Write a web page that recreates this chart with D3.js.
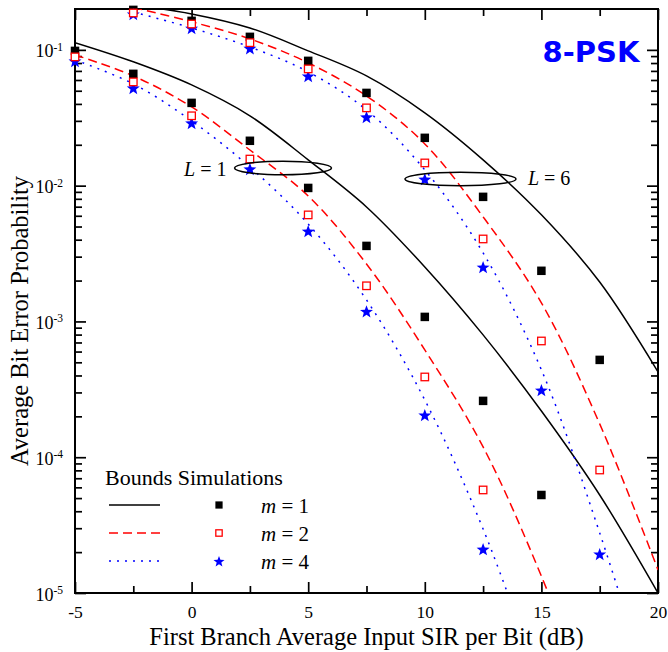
<!DOCTYPE html>
<html><head><meta charset="utf-8">
<script src="https://cdn.jsdelivr.net/npm/d3@7"></script>
<style>body{margin:0;background:#fff}</style>
</head><body><svg id="c" width="668" height="652"></svg>
<script>
// ---------- data ----------
const sirDb = [-5, -2.5, 0, 2.5, 5, 7.5, 10, 12.5, 15, 17.5];
const simL1m1 = [0.0983, 0.0666, 0.0407, 0.0214, 0.00962, 0.00360, 0.00108, 2.60e-4, 5.27e-5, null];
const simL1m2 = [0.0888, 0.0581, 0.0327, 0.0157, 0.00609, 0.00183, 3.90e-4, 5.74e-5, null, null];
const simL1m4 = [0.0830, 0.0525, 0.0290, 0.0133, 0.00464, 0.00119, 2.05e-4, 2.11e-5, null, null];
const simL6m1 = [null, 0.197, 0.1636, 0.1247, 0.0830, 0.0482, 0.0225, 0.00827, 0.00236, 5.21e-4];
const simL6m2 = [null, 0.187, 0.155, 0.113, 0.0724, 0.0374, 0.0147, 0.00405, 7.18e-4, 8.05e-5];
const simL6m4 = [null, 0.184, 0.145, 0.103, 0.0643, 0.0321, 0.0112, 0.00252, 3.13e-4, 1.94e-5];

const boundDb = [-5, -2.5, 0, 2.5, 5, 7.5, 10, 12.5, 15, 17.5, 20];
const boundL1m1 = [0.113, 0.0817, 0.0552, 0.0327, 0.0155, 0.00697, 0.00252, 7.96e-4, 2.19e-4, 5.27e-5, 1.0e-5];
const boundL1m2 = [0.0918, 0.0643, 0.0380, 0.0183, 0.00839, 0.00265, 6.17e-4, 1.19e-4, 1.33e-5, 1.0e-6, null];
const boundL1m4 = [0.0843, 0.0562, 0.0300, 0.0137, 0.00522, 0.00144, 2.64e-4, 2.96e-5, 2.0e-6, null, null];
const boundL6m1 = [null, 0.214, 0.184, 0.145, 0.0984, 0.0643, 0.0344, 0.0155, 0.00610, 0.00195, 4.25e-4];
const boundL6m2 = [null, 0.205, 0.161, 0.1205, 0.0802, 0.0458, 0.0203, 0.00589, 0.00137, 1.76e-4, 1.48e-5];
const boundL6m4 = [null, 0.19, 0.145, 0.105, 0.0689, 0.0361, 0.01306, 0.00320, 4.40e-4, 2.77e-5, 1.2e-6];

const xTicks = [-5, 0, 5, 10, 15, 20];
const xMinorTicks = [-2.5, 2.5, 7.5, 12.5, 17.5];
const yExponents = [-1, -2, -3, -4, -5];
const mValues = [1, 2, 4];
const groupLabels = ["1", "6"];
const ellipseCenterDb = [3.92, 11.53];
const ellipseCenterBer = [0.0135, 0.0112];
const ellipseHalfWidthDb = [2.08, 2.38];
const titleText = "8-PSK";
const xLabel = "First Branch Average Input SIR per Bit (dB)";
const yLabel = "Average Bit Error Probability";
const legendHeader = "Bounds Simulations";

// ---------- setup ----------
const svg = d3.select("#c");
svg.append("rect").attr("width", 668).attr("height", 652).attr("fill", "#fff");
const plotL = 75, plotR = 658, plotT = 9, plotB = 593;
const x = d3.scaleLinear().domain([-5, 20]).range([plotL, plotR]);
const y = d3.scaleLog().domain([1e-5, 0.2]).range([plotB, plotT]);
const RED = "#ff0000", BLUE = "#0000ff";
const SERIF = '"Liberation Serif"';
const serifText = (sel, size) => sel.style("font-family", SERIF).style("font-size", size + "px").attr("fill", "#000");

svg.append("defs").append("clipPath").attr("id", "clip")
  .append("rect").attr("x", plotL).attr("y", plotT).attr("width", plotR - plotL).attr("height", plotB - plotT);

// ---------- axes ----------
const minorY = [];
for (let e = -5; e <= -1; e++) for (let k = 2; k <= 9; k++) { const v = k * Math.pow(10, e); if (v < 0.2) minorY.push(v); }
const majorY = yExponents.map(e => Math.pow(10, e));

function styleAxis(g) {
  g.select(".domain").remove();
  g.selectAll("line").attr("stroke", "#000").attr("stroke-width", 1.7);
}
// bottom
svg.append("g").attr("transform", `translate(0,${plotB})`)
  .call(d3.axisBottom(x).tickValues(xTicks).tickSize(-11).tickFormat(d => String(d)))
  .call(styleAxis)
  .call(g => g.selectAll("text").attr("y", 25).attr("dy", null).call(serifText, 17.5));
svg.append("g").attr("transform", `translate(0,${plotB})`)
  .call(d3.axisBottom(x).tickValues(xMinorTicks).tickSize(-7).tickFormat(""))
  .call(styleAxis);
// top
svg.append("g").attr("transform", `translate(0,${plotT})`)
  .call(d3.axisTop(x).tickValues(xTicks).tickSize(-11).tickFormat("")).call(styleAxis);
svg.append("g").attr("transform", `translate(0,${plotT})`)
  .call(d3.axisTop(x).tickValues(xMinorTicks).tickSize(-7).tickFormat("")).call(styleAxis);
// left
svg.append("g").attr("transform", `translate(${plotL},0)`)
  .call(d3.axisLeft(y).tickValues(majorY).tickSize(-11).tickFormat("")).call(styleAxis);
svg.append("g").attr("transform", `translate(${plotL},0)`)
  .call(d3.axisLeft(y).tickValues(minorY).tickSize(-7).tickFormat("")).call(styleAxis);
// right
svg.append("g").attr("transform", `translate(${plotR},0)`)
  .call(d3.axisRight(y).tickValues(majorY).tickSize(-11).tickFormat("")).call(styleAxis);
svg.append("g").attr("transform", `translate(${plotR},0)`)
  .call(d3.axisRight(y).tickValues(minorY).tickSize(-7).tickFormat("")).call(styleAxis);

// y tick labels 10^n
yExponents.forEach(e => {
  const t = svg.append("text").attr("x", plotL - 12).attr("y", y(Math.pow(10, e)) + 7.5)
    .attr("text-anchor", "end").call(serifText, 18);
  t.append("tspan").text("10");
  t.append("tspan").style("font-size", "11.5px").attr("dy", -6.5).text(String(e));
});

// frame
svg.append("rect").attr("x", plotL).attr("y", plotT).attr("width", plotR - plotL).attr("height", plotB - plotT)
  .attr("fill", "none").attr("stroke", "#000").attr("stroke-width", 2);

// ---------- bounds ----------
const styles = [
  { color: "#000", dash: null },
  { color: RED, dash: "9,5" },
  { color: BLUE, dash: "2,6" }
];
const boundSets = [
  [boundL1m1, 0], [boundL1m2, 1], [boundL1m4, 2],
  [boundL6m1, 0], [boundL6m2, 1], [boundL6m4, 2]
];
const line = d3.line().x(d => x(d[0])).y(d => y(d[1])).curve(d3.curveCatmullRom.alpha(0.5));
const gCurves = svg.append("g").attr("clip-path", "url(#clip)");
boundSets.forEach(([vals, si]) => {
  const pts = boundDb.map((d, i) => [d, vals[i]]).filter(p => p[1] != null);
  gCurves.append("path").attr("d", line(pts)).attr("fill", "none")
    .attr("stroke", styles[si].color).attr("stroke-width", 1.5)
    .attr("stroke-dasharray", styles[si].dash);
});

// ---------- markers ----------
const starPath = (r) => {
  const pts = [];
  for (let i = 0; i < 10; i++) {
    const a = -Math.PI / 2 + i * Math.PI / 5;
    const rr = i % 2 === 0 ? r : r * 0.42;
    pts.push([rr * Math.cos(a), rr * Math.sin(a)]);
  }
  return "M" + pts.map(p => p[0].toFixed(2) + "," + p[1].toFixed(2)).join("L") + "Z";
};
function drawMarker(g, type, cx, cy, scale) {
  if (type === 0) {
    const s = 8.5 * scale;
    g.append("rect").attr("x", cx - s / 2).attr("y", cy - s / 2).attr("width", s).attr("height", s).attr("fill", "#000");
  } else if (type === 1) {
    const s = 7.5 * scale;
    g.append("rect").attr("x", cx - s / 2).attr("y", cy - s / 2).attr("width", s).attr("height", s)
      .attr("fill", "#fff").attr("stroke", RED).attr("stroke-width", 1.3);
  } else {
    g.append("path").attr("transform", `translate(${cx},${cy + 0.8})`).attr("d", starPath(6.8 * scale)).attr("fill", BLUE);
  }
}
const simSets = [[simL1m1, 0], [simL6m1, 0], [simL1m4, 2], [simL6m4, 2], [simL1m2, 1], [simL6m2, 1]];
const gMarks = svg.append("g");
simSets.forEach(([vals, type]) => {
  sirDb.forEach((d, i) => { if (vals[i] != null) drawMarker(gMarks, type, x(d), y(vals[i]), 1); });
});

// ---------- annotations ----------
groupLabels.forEach((lab, i) => {
  const cx = x(ellipseCenterDb[i]), cy = y(ellipseCenterBer[i]);
  const rx = x(ellipseCenterDb[i] + ellipseHalfWidthDb[i]) - cx;
  svg.append("ellipse").attr("cx", cx).attr("cy", cy).attr("rx", rx).attr("ry", 6.8)
    .attr("fill", "none").attr("stroke", "#000").attr("stroke-width", 1.5);
  const t = svg.append("text").call(serifText, 20);
  if (i === 0) t.attr("x", cx - rx - 8).attr("y", cy + 8).attr("text-anchor", "end");
  else t.attr("x", cx + rx + 12).attr("y", cy + 6).attr("text-anchor", "start");
  t.append("tspan").style("font-style", "italic").text("L");
  t.append("tspan").text(" = " + lab);
});

// title
svg.append("text").attr("x", 591).attr("y", 62).attr("text-anchor", "middle")
  .style("font-family", '"DejaVu Sans"').style("font-weight", "bold").style("font-size", "29px")
  .attr("fill", BLUE).text(titleText);

// ---------- legend ----------
svg.append("text").attr("x", 105).attr("y", 485).call(serifText, 22).text(legendHeader);
const rowY = [505, 533, 561];
mValues.forEach((m, i) => {
  svg.append("line").attr("x1", 109).attr("x2", 160).attr("y1", rowY[i]).attr("y2", rowY[i])
    .attr("stroke", styles[i].color).attr("stroke-width", 1.5).attr("stroke-dasharray", styles[i].dash);
  drawMarker(svg, i, 219, rowY[i], 0.85);
  const t = svg.append("text").attr("x", 261).attr("y", rowY[i] + 7.5).call(serifText, 21);
  t.append("tspan").style("font-style", "italic").text("m");
  t.append("tspan").text(" = " + m);
});

// axis titles
svg.append("text").attr("x", (plotL + plotR) / 2).attr("y", 645).attr("text-anchor", "middle")
  .call(serifText, 24.5).text(xLabel);
svg.append("text").attr("transform", "translate(28,321) rotate(-90)")
  .attr("text-anchor", "middle").call(serifText, 24.5).text(yLabel);
</script>
</body></html>
